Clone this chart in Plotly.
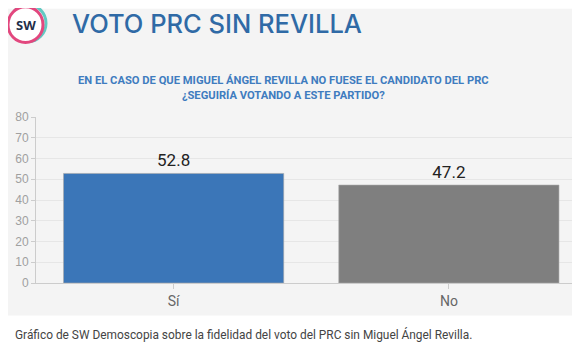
import plotly.graph_objects as go

categories = ["Sí", "No"]
values = [52.8, 47.2]
bar_colors = ["#3b76b8", "#7f7f7f"]
y_ticks = [0, 10, 20, 30, 40, 50, 60, 70, 80]

# The page body adds an 8px margin; work in reference-pixel coordinates and shift.
OFF = 8
W, H = 580 - OFF, 355 - OFF
L, R_EDGE = 36 - OFF, 580 - OFF
TOP, BOT = 116.7 - OFF, 283.3 - OFF

def px(x):
    return (x - OFF - L) / (R_EDGE - L)

def py(y):
    return (BOT - (y - OFF)) / (BOT - TOP)

fig = go.Figure()
fig.add_trace(go.Bar(
    x=categories, y=values,
    marker=dict(color=bar_colors, line=dict(color="#a8a8a8", width=0.6)),
    width=0.8,
    text=[f"{v:.1f}" for v in values],
    textposition="outside",
    textfont=dict(family="Roboto, Arial", size=17, color="#222222"),
    cliponaxis=False,
))

shapes = [
    dict(type="rect", xref="paper", yref="paper", x0=px(5), x1=px(580), y0=py(316), y1=py(OFF),
         fillcolor="#f4f4f4", line=dict(width=0), layer="below"),
    dict(type="circle", xref="paper", yref="paper", x0=px(10), x1=px(46), y0=py(41), y1=py(4),
         line=dict(color="#62c9c2", width=3), fillcolor="rgba(0,0,0,0)"),
    dict(type="circle", xref="paper", yref="paper", x0=px(8), x1=px(43), y0=py(42), y1=py(6),
         line=dict(color="#e2477e", width=3), fillcolor="white"),
]

annotations = [
    dict(text="<b>SW</b>", x=px(26), y=py(24), xref="paper", yref="paper", showarrow=False,
         font=dict(family="Open Sans, Arial", size=13, color="#1f2f4a"), xanchor="center", yanchor="middle"),
    dict(text="VOTO PRC SIN REVILLA", x=px(70), y=py(23), xref="paper", yref="paper", showarrow=False,
         font=dict(family="Inter, Open Sans, Arial", size=25.5, color="#2f6aa6", weight=500), xanchor="left", yanchor="middle"),
    dict(text="<b>EN EL CASO DE QUE MIGUEL ÁNGEL REVILLA NO FUESE EL CANDIDATO DEL PRC<br>¿SEGUIRÍA VOTANDO A ESTE PARTIDO?</b>",
         x=px(283), y=py(88), xref="paper", yref="paper", showarrow=False,
         font=dict(family="Roboto, Arial", size=11.2, color="#3f7cbf"), xanchor="center", yanchor="middle",
         align="center"),
    dict(text="Gráfico de SW Demoscopia sobre la fidelidad del voto del PRC sin Miguel Ángel Revilla.",
         x=px(13), y=py(335), xref="paper", yref="paper", showarrow=False,
         font=dict(family="Roboto, Arial", size=11.9, color="#444444"), xanchor="left", yanchor="middle"),
]

fig.update_layout(
    width=W, height=H,
    margin=dict(l=L, r=W - R_EDGE, t=TOP, b=H - BOT, pad=0),
    paper_bgcolor="white",
    plot_bgcolor="rgba(0,0,0,0)",
    showlegend=False,
    shapes=shapes,
    annotations=annotations,
)
fig.update_xaxes(
    range=[-0.5, 1.5 - 6.5 / 275], showgrid=False,
    ticks="outside", ticklen=5, tickcolor="#cccccc",
    tickfont=dict(family="Roboto, Arial", size=14, color="#666666"),
    showline=True, linecolor="#cccccc", linewidth=1,
)
fig.update_yaxes(
    range=[0, 80], tickvals=y_ticks, showgrid=True, gridcolor="#e6e6e6", gridwidth=1,
    ticks="outside", ticklen=4, tickcolor="#cccccc",
    tickfont=dict(family="Arial", size=12, color="#a0a0a0"),
    showline=True, linecolor="#cccccc", linewidth=1, zeroline=False,
)

fig.write_html("out.html")
